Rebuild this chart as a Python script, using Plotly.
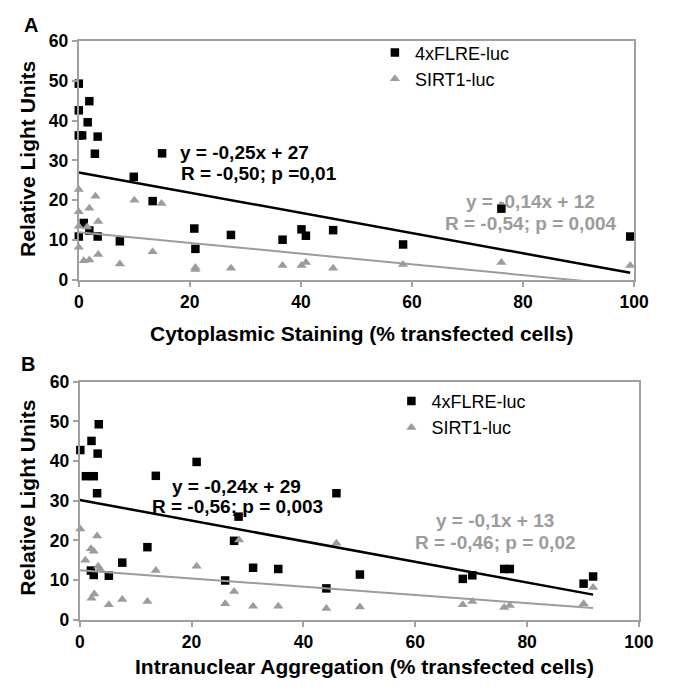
import plotly.graph_objects as go

W, H = 686, 687

# ---------------- data: panel A (cytoplasmic staining) ----------------
a_flre_x = [0, 0, 0, 0, 0.6, 0.9, 1.6, 1.9, 1.9, 2.9, 3.4, 3.4, 7.4, 9.9, 13.3, 15.0,
            20.8, 21.0, 27.4, 36.7, 40.1, 40.9, 45.8, 58.4, 76.1, 99.3]
a_flre_y = [49.3, 42.6, 36.3, 10.9, 36.3, 14.3, 39.6, 44.9, 12.4, 31.7, 36.0, 10.9, 9.7, 25.9, 19.8, 31.8,
            12.9, 7.8, 11.3, 10.1, 12.7, 11.1, 12.5, 8.9, 17.9, 10.9]
a_sirt_x = [0, 0, 0, 0, 0.9, 1.5, 1.9, 1.9, 3.0, 3.5, 3.5, 7.4, 10.0, 13.3, 14.9,
            21.0, 21.0, 27.4, 36.7, 40.1, 40.9, 45.8, 58.4, 76.1, 99.3]
a_sirt_y = [22.7, 17.1, 13.5, 8.2, 4.8, 13.3, 18.0, 5.0, 21.0, 14.7, 6.4, 4.0, 20.0, 7.1, 19.2,
            3.1, 2.6, 2.9, 3.6, 3.6, 4.4, 2.9, 3.9, 4.4, 3.6]

# ---------------- data: panel B (intranuclear aggregation) ----------------
b_flre_x = [0.1, 1.1, 2.1, 2.5, 3.1, 3.2, 3.4, 2.0, 2.5, 5.2, 7.6, 12.1, 13.6, 20.9,
            26.0, 27.6, 28.4, 31.0, 35.5, 44.1, 45.9, 50.1, 68.5, 70.2, 75.9, 76.9, 90.1, 91.8]
b_flre_y = [42.8, 36.2, 45.1, 36.2, 31.9, 41.9, 49.3, 12.4, 11.3, 11.1, 14.4, 18.3, 36.3, 39.8,
            9.9, 19.9, 26.0, 13.1, 12.8, 7.9, 31.9, 11.4, 10.3, 11.2, 12.8, 12.8, 9.1, 10.9]
b_sirt_x = [0.1, 1.0, 2.0, 2.1, 2.5, 2.6, 3.1, 3.3, 3.6, 5.2, 7.6, 12.1, 13.6, 20.9,
            26.0, 27.6, 28.5, 31.0, 35.5, 44.1, 45.9, 50.1, 68.5, 70.2, 75.9, 76.9, 90.1, 91.8]
b_sirt_y = [22.9, 15.0, 17.9, 5.4, 17.3, 6.5, 21.1, 13.5, 12.8, 3.8, 5.1, 4.6, 12.4, 13.5,
            4.0, 7.1, 20.1, 3.4, 3.4, 2.8, 19.3, 3.2, 3.8, 4.6, 3.1, 3.6, 4.0, 8.1]

# regression lines (slope, intercept, x-extent) as drawn
a_flre_fit = (-0.254, 27.0, [0, 99.3])
a_sirt_fit = (-0.135, 12.0, [0, 99.3])
b_flre_fit = (-0.26, 30.2, [0, 91.8])
b_sirt_fit = (-0.104, 12.5, [0, 91.8])

x_ticks = [0, 20, 40, 60, 80, 100]
y_ticks = [0, 10, 20, 30, 40, 50, 60]

BLACK = "#000000"
GRAY = "#9c9c9c"
AXGRAY = "#a0a0a0"
FONT = "Liberation Sans, Arial, sans-serif"

fig = go.Figure()


def add_panel(xa, ya, fx, fy, sx, sy, ffit, sfit, legend):
    fig.add_trace(go.Scatter(x=fx, y=fy, mode="markers", name="4xFLRE-luc",
                             marker=dict(symbol="square", size=8.5, color=BLACK),
                             xaxis=xa, yaxis=ya, cliponaxis=False, legend=legend))
    fig.add_trace(go.Scatter(x=sx, y=sy, mode="markers", name="SIRT1-luc",
                             marker=dict(symbol="triangle-up", size=9, color=GRAY),
                             xaxis=xa, yaxis=ya, cliponaxis=False, legend=legend))
    for (m, b, ext), col, wd in [(ffit, BLACK, 2.5), (sfit, GRAY, 2)]:
        fig.add_trace(go.Scatter(x=ext, y=[m * v + b for v in ext], mode="lines",
                                 line=dict(color=col, width=wd), showlegend=False,
                                 xaxis=xa, yaxis=ya, hoverinfo="skip"))


add_panel("x", "y", a_flre_x, a_flre_y, a_sirt_x, a_sirt_y, a_flre_fit, a_sirt_fit, "legend")
add_panel("x2", "y2", b_flre_x, b_flre_y, b_sirt_x, b_sirt_y, b_flre_fit, b_sirt_fit, "legend2")


def px_x(p):
    return p / W


def px_y(p):
    return 1 - p / H


ax_common = dict(showline=True, linecolor=AXGRAY, linewidth=2, mirror=True,
                 showgrid=False, zeroline=False, ticks="outside", ticklen=5,
                 tickcolor=AXGRAY, tickwidth=1.5,
                 tickfont=dict(family=FONT, size=17.5, color="black", weight="bold"))

fig.update_layout(
    width=W, height=H, margin=dict(l=0, r=0, t=0, b=0),
    paper_bgcolor="white", plot_bgcolor="white",
    xaxis=dict(domain=[px_x(76), px_x(648)], range=[0, 100], tickvals=x_ticks, anchor="y", **ax_common),
    yaxis=dict(domain=[px_y(278), px_y(32)], range=[0, 60], tickvals=y_ticks, anchor="x", **ax_common),
    xaxis2=dict(domain=[px_x(77), px_x(653)], range=[0, 100], tickvals=x_ticks, anchor="y2", **ax_common),
    yaxis2=dict(domain=[px_y(628), px_y(383)], range=[0, 60], tickvals=y_ticks, anchor="x2", **ax_common),
    legend=dict(x=px_x(381), y=px_y(25), xanchor="left", yanchor="top",
                font=dict(family=FONT, size=18, color="black"), bgcolor="rgba(0,0,0,0)"),
    legend2=dict(x=px_x(398), y=px_y(384), xanchor="left", yanchor="top",
                 font=dict(family=FONT, size=18, color="black"), bgcolor="rgba(0,0,0,0)"),
    showlegend=True,
)

ann = []


def text(s, x, y, size, color="black", bold=True, angle=0):
    ann.append(dict(text=s, x=px_x(x), y=px_y(y), xref="paper", yref="paper",
                    xanchor="center", yanchor="middle", showarrow=False, textangle=angle,
                    font=dict(family=FONT, size=size, color=color,
                              weight="bold" if bold else "normal")))


# panel letters
text("A", 27, 15, 20)
text("B", 24, 365, 20)
# axis titles
text("Relative Light Units", 23, 153, 21, angle=-90)
text("Relative Light Units", 23, 502, 21, angle=-90)
text("Cytoplasmic Staining (% transfected cells)", 368, 333, 21)
text("Intranuclear Aggregation (% transfected cells)", 370, 676, 21)
# regression equations
text("y = -0,25x + 27", 247, 147, 19)
text("R = -0,50; p =0,01", 262, 168, 19)
text("y = -0,14x + 12", 541, 197, 19, color=GRAY)
text("R = -0,54; p = 0,004", 542, 220, 19, color=GRAY)
text("y = -0,24x + 29", 238, 491, 19)
text("R = -0,56; p = 0,003", 239, 511, 19)
text("y = -0,1x + 13", 505, 526, 19, color=GRAY)
text("R = -0,46; p = 0,02", 505, 548, 19, color=GRAY)

fig.update_layout(annotations=ann)

fig.write_html("out.html")
